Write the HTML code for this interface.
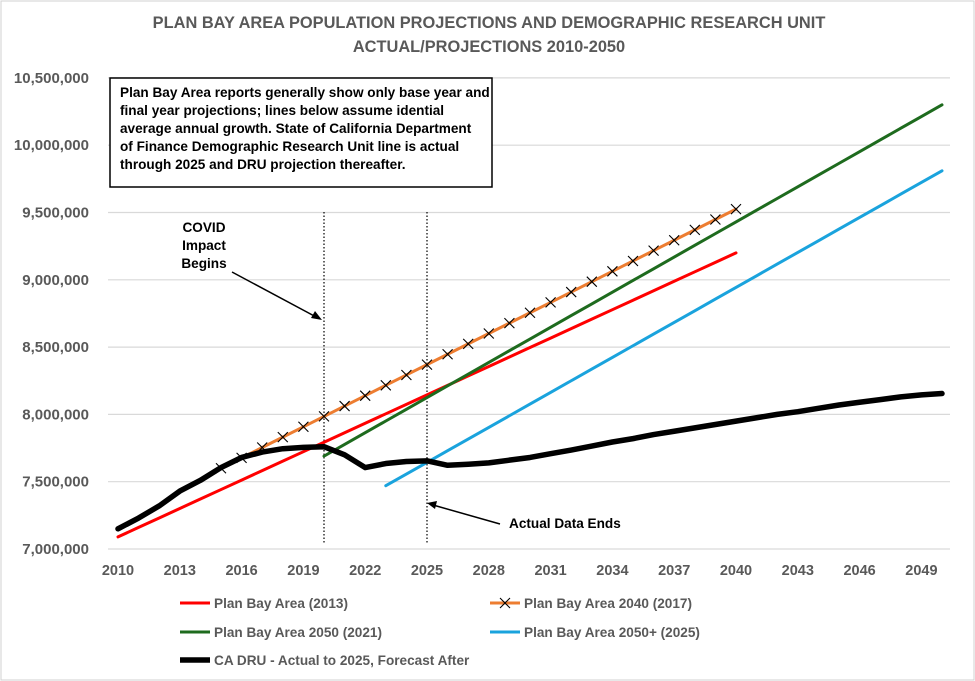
<!DOCTYPE html>
<html><head><meta charset="utf-8"><style>
body{margin:0;background:#fff;}
svg{display:block;font-family:"Liberation Sans",sans-serif;}
</style></head><body>
<svg id="chart" width="975" height="681" viewBox="0 0 975 681">
<rect x="1" y="1" width="973" height="679" fill="#fff" stroke="#d0d0d0"/>
<text x="489" y="28" text-anchor="middle" font-size="16.4" font-weight="bold" fill="#595959">PLAN BAY AREA POPULATION PROJECTIONS AND DEMOGRAPHIC RESEARCH UNIT</text>
<text x="489" y="52" text-anchor="middle" font-size="16.4" font-weight="bold" fill="#595959">ACTUAL/PROJECTIONS  2010-2050</text>
<g id="grid"></g><g id="yticks"></g><g id="xticks"></g>
<line x1="324" y1="212" x2="324" y2="543" stroke="#000" stroke-width="1.2" stroke-dasharray="1.5,2"/>
<line x1="427" y1="212" x2="427" y2="543" stroke="#000" stroke-width="1.2" stroke-dasharray="1.5,2"/>
<g id="series"></g>
<rect x="110" y="78" width="382" height="109" fill="#fff" stroke="#000" stroke-width="1.5"/>
<g font-size="13.6" font-weight="bold" fill="#000">
<text x="120" y="97">Plan  Bay Area reports generally  show only base year and</text>
<text x="120" y="115">final year  projections; lines below assume idential</text>
<text x="120" y="133">average  annual growth.  State of California Department</text>
<text x="120" y="151">of Finance Demographic Research Unit line is actual</text>
<text x="120" y="169">through 2025 and DRU projection thereafter.</text>
</g>
<g font-size="13.6" font-weight="bold" text-anchor="middle">
<text x="204" y="232">COVID</text><text x="204" y="250">Impact</text><text x="204" y="268">Begins</text>
</g>
<line x1="232" y1="272" x2="318" y2="318" stroke="#000" stroke-width="1.5"/>
<polygon points="322,320 311,318 315,311" fill="#000"/>
<line x1="500" y1="524" x2="433" y2="505" stroke="#000" stroke-width="1.5"/>
<polygon points="427,503 437,501 435,509" fill="#000"/>
<text x="509" y="528" font-size="13.6" font-weight="bold">Actual Data Ends</text>
<g id="legend" font-size="13.6" font-weight="bold" fill="#595959"></g>
</svg>
<script>
const years = Array.from({length:41},(_,i)=>2010+i);
const xTickYears = [2010,2013,2016,2019,2022,2025,2028,2031,2034,2037,2040,2043,2046,2049];
const yTicks = [7000000,7500000,8000000,8500000,9000000,9500000,10000000,10500000];
const pba2013 = {start:2010,end:2040,v0:7090000,v1:9200000};
const pba2040 = {start:2015,end:2040,v0:7600000,v1:9525000};
const pba2050 = {start:2020,end:2050,v0:7690000,v1:10300000};
const pba2050p = {start:2023,end:2050,v0:7470000,v1:9810000};
const druValues = [7150000,7230000,7320000,7430000,7510000,7605000,7680000,7720000,7745000,7755000,7760000,7700000,7605000,7635000,7650000,7655000,7622000,7630000,7640000,7660000,7680000,7708000,7735000,7765000,7795000,7820000,7850000,7875000,7900000,7925000,7950000,7975000,8000000,8020000,8045000,8070000,8090000,8110000,8130000,8145000,8155000];
const NS='http://www.w3.org/2000/svg';
const X = y => 118 + (y-2010)*20.6;
const Y = v => 549 - (v-7000000)/500000*67.3;
function mk(tag, parent, attrs){const e=document.createElementNS(NS,tag);for(const k in attrs)e.setAttribute(k,attrs[k]);parent.appendChild(e);return e;}
const grid=document.getElementById('grid'), yt=document.getElementById('yticks'), xt=document.getElementById('xticks');
yTicks.forEach(v=>{
  const l=mk('line',grid,{x1:108,x2:950,y1:Y(v),y2:Y(v),stroke:'#d9d9d9','stroke-width':1.2});
  
  
  const t=mk('text',yt,{x:89,y:Y(v)+5,'text-anchor':'end','font-size':15,'font-weight':'bold',fill:'#595959'});
  t.textContent=v.toLocaleString('en-US');
  
  
});
xTickYears.forEach(y=>{
  const t=mk('text',xt,{x:X(y),y:575,'text-anchor':'middle','font-size':14.5,'font-weight':'bold',fill:'#595959'});
  t.textContent=y;
  
  
});
const ser=document.getElementById('series');
function linear(s){const pts=[];for(let y=s.start;y<=s.end;y++){pts.push([X(y),Y(s.v0+(s.v1-s.v0)*(y-s.start)/(s.end-s.start))]);}return pts;}
function poly(pts,color,w,name){const p=mk('polyline',ser,{points:pts.map(p=>p.join(',')).join(' '),fill:'none',stroke:color,'stroke-width':w,'stroke-linejoin':'round','stroke-linecap':'round'});
  
  return p;}
poly(linear(pba2013),'#ff0000',3,'line-pba-2013');
const op=linear(pba2040);
poly(op,'#ed7d31',3,'line-pba-2040');
op.forEach(([x,y])=>{const g=mk('path',ser,{d:`M${x-5},${y-5}L${x+5},${y+5}M${x-5},${y+5}L${x+5},${y-5}`,stroke:'#000','stroke-width':1.1});
  
  });
poly(linear(pba2050),'#1e6b1e',3,'line-pba-2050');
poly(linear(pba2050p),'#1aa3dd',3,'line-pba-2050-plus');
poly(druValues.map((v,i)=>[X(years[i]),Y(v)]),'#000',5.5,'line-ca-dru');
const lg=document.getElementById('legend');
const items=[[180,603,'#ff0000',3,'Plan Bay Area (2013)',false],[490,603,'#ed7d31',3,'Plan Bay Area 2040 (2017)',true],[180,632,'#1e6b1e',3,'Plan Bay Area 2050 (2021)',false],[490,632,'#1aa3dd',3,'Plan Bay Area 2050+ (2025)',false],[180,660,'#000',5.5,'CA DRU - Actual to 2025, Forecast After',false]];
items.forEach(([x,y,c,w,label,mark])=>{
  const g=mk('g',lg,{});
  
  
  mk('line',g,{x1:x,x2:x+30,y1:y,y2:y,stroke:c,'stroke-width':w});
  if(mark) mk('path',g,{d:`M${x+10},${y-5}L${x+20},${y+5}M${x+10},${y+5}L${x+20},${y-5}`,stroke:'#000','stroke-width':1.1});
  const t=mk('text',g,{x:x+34,y:y+5});t.textContent=label;
});
</script>
</body></html>
